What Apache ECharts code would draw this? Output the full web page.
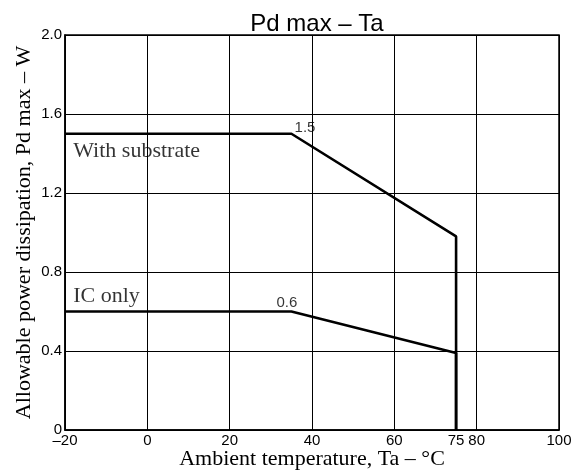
<!DOCTYPE html>
<html><head><meta charset="utf-8">
<script src="https://cdn.jsdelivr.net/npm/echarts@6/dist/echarts.min.js"></script>
<style>html,body{margin:0;padding:0;background:#fff}#c{width:579px;height:472px}</style>
</head><body><div id="c"></div>
<script>
var xTickLabels = [-20, 0, 20, 40, 60, 75, 80, 100];
var substrateData = [[-20, 1.5], [35, 1.5], [75, 0.98], [75, 0]];
var icOnlyData = [[-20, 0.6], [35, 0.6], [75, 0.39], [75, 0]];
var curveNotes = [{ value: [-18, 1.41], text: 'With substrate' }, { value: [-18, 0.675], text: 'IC only' }];
var pointNotes = [{ value: [38.3, 1.53], text: '1.5' }, { value: [33.9, 0.645], text: '0.6' }];

var chart = echarts.init(document.getElementById('c'), null, { renderer: 'canvas' });
var sans = 'Liberation Sans', serif = 'Liberation Serif';
chart.setOption({
  animation: false,
  backgroundColor: '#fff',
  title: { text: 'Pd max – Ta', left: 312, textAlign: 'center', top: 7,
    textStyle: { fontFamily: sans, fontSize: 24, fontWeight: 'normal', color: '#000' } },
  grid: { left: 65, right: 20, top: 35, bottom: 42, show: true, borderColor: '#000', borderWidth: 1.5,
    containLabel: false, outerBoundsMode: 'none' },
  xAxis: {
    type: 'value', min: -20, max: 100, interval: 20,
    name: 'Ambient temperature, Ta – °C', nameLocation: 'middle', nameGap: 18, nameMoveOverlap: false,
    nameTextStyle: { fontFamily: serif, fontSize: 22, color: '#000' },
    axisLine: { show: true, onZero: false, lineStyle: { color: '#000', width: 1.5 } },
    axisTick: { show: false },
    axisLabel: { customValues: xTickLabels, margin: 3, fontFamily: sans, fontSize: 15, color: '#000',
      formatter: function (v) { return String(v).replace('-', '–'); } },
    splitLine: { show: true, lineStyle: { color: '#000', width: 1 } }
  },
  yAxis: {
    type: 'value', min: 0, max: 2.0, interval: 0.4,
    name: 'Allowable power dissipation, Pd max – W', nameLocation: 'middle', nameGap: 30, nameMoveOverlap: false,
    nameTextStyle: { fontFamily: serif, fontSize: 22, color: '#000' },
    axisLine: { show: true, onZero: false, lineStyle: { color: '#000', width: 1.5 } },
    axisTick: { show: false },
    axisLabel: { margin: 3, fontFamily: sans, fontSize: 15, color: '#000',
      formatter: function (v) { return v === 0 ? '0' : v.toFixed(1); } },
    splitLine: { show: true, lineStyle: { color: '#000', width: 1 } }
  },
  series: [
    { type: 'line', data: substrateData, symbol: 'none', lineStyle: { color: '#000', width: 2.6 } },
    { type: 'line', data: icOnlyData, symbol: 'none', lineStyle: { color: '#000', width: 2.6 } },
    { type: 'scatter', symbolSize: 0, silent: true,
      data: curveNotes.map(function (d) { return { value: d.value, label: { formatter: d.text } }; }),
      label: { show: true, position: 'right', distance: 0, fontFamily: serif, fontSize: 22, color: '#000', textBorderWidth: 0 } },
    { type: 'scatter', symbolSize: 0, silent: true,
      data: pointNotes.map(function (d) { return { value: d.value, label: { formatter: d.text } }; }),
      label: { show: true, position: 'inside', fontFamily: sans, fontSize: 15, color: '#000', textBorderWidth: 0 } }
  ]
});
</script></body></html>
